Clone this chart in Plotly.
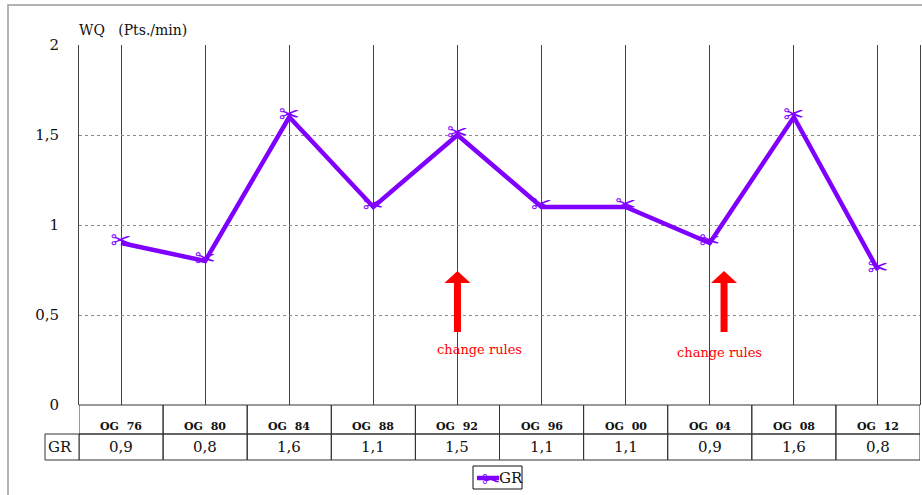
import plotly.graph_objects as go

# Olympic Games editions and the work rate (points per minute) of GR
games = ["OG 76", "OG 80", "OG 84", "OG 88", "OG 92", "OG 96", "OG 00", "OG 04", "OG 08", "OG 12"]
gr_values = [0.9, 0.8, 1.6, 1.1, 1.5, 1.1, 1.1, 0.9, 1.6, 0.75]
y_ticks = [0, 0.5, 1, 1.5, 2]

# rule-change notes: (arrow x in category units, arrow tip value, label x, label value)
rule_notes = [(4.0, 0.744, 4.26, 0.311), (7.17, 0.744, 7.11, 0.294)]

SERIF = "DejaVu Serif"
PURPLE = "#8000ff"
SCISSORS = "\u2702"

# plot area in pixels: x 79..920, y 45..405
L, R, T, B = 79, 920, 45, 405


def px_x(p):
    return (p - L) / (R - L)


def px_y(p):
    return (B - p) / (B - T)


def comma(v):
    return f"{v:g}".replace(".", ",")


def note(x, y, text, size, color="#111", xref="paper", yref="paper", xanchor="center", family=SERIF):
    return dict(x=x, y=y, xref=xref, yref=yref, xanchor=xanchor, yanchor="middle",
                showarrow=False, text=text, font=dict(family=family, size=size, color=color))


xs = list(range(len(games)))

fig = go.Figure()
fig.add_trace(go.Scatter(
    x=xs, y=gr_values, name="GR",
    mode="lines+text",
    line=dict(color=PURPLE, width=4.5),
    text=[SCISSORS] * len(xs),
    textposition="middle center",
    textfont=dict(family="DejaVu Sans", size=25, color=PURPLE),
    cliponaxis=False,
    showlegend=False,
))

shapes = []
annotations = []

# outer chart frame
shapes.append(dict(type="rect", xref="paper", yref="paper",
                   x0=px_x(8), x1=px_x(926), y0=px_y(5), y1=px_y(500),
                   line=dict(color="#9a9a9a", width=1.5), layer="below"))

# data table under the category axis
row_top, row_mid, row_bot = 0.0, px_y(434), px_y(460)
line_c = dict(color="#333333", width=1)
for i, (g, v) in enumerate(zip(games, gr_values)):
    shapes.append(dict(type="rect", xref="x", yref="paper", x0=i - 0.5, x1=i + 0.5,
                       y0=row_top, y1=row_mid, line=line_c))
    shapes.append(dict(type="rect", xref="x", yref="paper", x0=i - 0.5, x1=i + 0.5,
                       y0=row_mid, y1=row_bot, line=line_c))
    annotations.append(note(i, px_y(426), "<b>" + g.replace(" ", "&nbsp;&nbsp;") + "</b>", 11, xref="x"))
    annotations.append(note(i, px_y(447), f"{v:.1f}".replace(".", ","), 15, xref="x"))
shapes.append(dict(type="rect", xref="paper", yref="paper", x0=px_x(45), x1=0,
                   y0=row_mid, y1=row_bot, line=line_c))
annotations.append(note(px_x(46), px_y(447), "GR", 15, xanchor="left"))

# axis title
annotations.append(note(px_x(77), px_y(30), "WQ&nbsp;&nbsp;&nbsp;(Pts./min)", 14, xanchor="left"))

# red arrows marking rule changes
for ax_, ay_, lx, ly in rule_notes:
    shapes.append(dict(type="path", xref="x", yref="y", xsizemode="pixel", ysizemode="pixel",
                       xanchor=ax_, yanchor=ay_,
                       path="M0,0 L13,-12 L3.5,-12 L3.5,-61 L-3.5,-61 L-3.5,-12 L-13,-12 Z",
                       fillcolor="#ff0000", line=dict(width=0)))
    annotations.append(note(lx, ly, "change rules", 13, color="#ff0000", xref="x", yref="y"))

# legend box with the series key
shapes.append(dict(type="rect", xref="paper", yref="paper",
                   x0=px_x(473), x1=px_x(522), y0=px_y(466), y1=px_y(489),
                   line=dict(color="#111", width=1)))
shapes.append(dict(type="line", xref="paper", yref="paper",
                   x0=px_x(477), x1=px_x(499), y0=px_y(478), y1=px_y(478),
                   line=dict(color=PURPLE, width=4.5)))
annotations.append(note(px_x(491), px_y(479), SCISSORS, 22, color=PURPLE, family="DejaVu Sans"))
annotations.append(note(px_x(497), px_y(478), "GR", 15, xanchor="left"))

fig.update_layout(
    width=922, height=495,
    margin=dict(l=L, r=922 - R, t=T, b=495 - B, autoexpand=False),
    paper_bgcolor="white", plot_bgcolor="white",
    showlegend=False,
    xaxis=dict(range=[-0.5, 9.5], tickvals=xs, showticklabels=False, ticks="",
               showgrid=True, gridcolor="#444444", gridwidth=1, zeroline=False,
               showline=False, fixedrange=True),
    yaxis=dict(range=[0, 2], tickvals=y_ticks,
               ticktext=[comma(t) for t in y_ticks],
               tickfont=dict(family=SERIF, size=15, color="#111"),
               ticks="", ticklabelstandoff=16,
               showgrid=True, gridcolor="#8a8a8a", griddash="dot", gridwidth=1,
               zeroline=False, showline=True, mirror=True, linecolor="#444444",
               linewidth=1, fixedrange=True),
    shapes=shapes,
    annotations=annotations,
)

fig.write_html("out.html")
